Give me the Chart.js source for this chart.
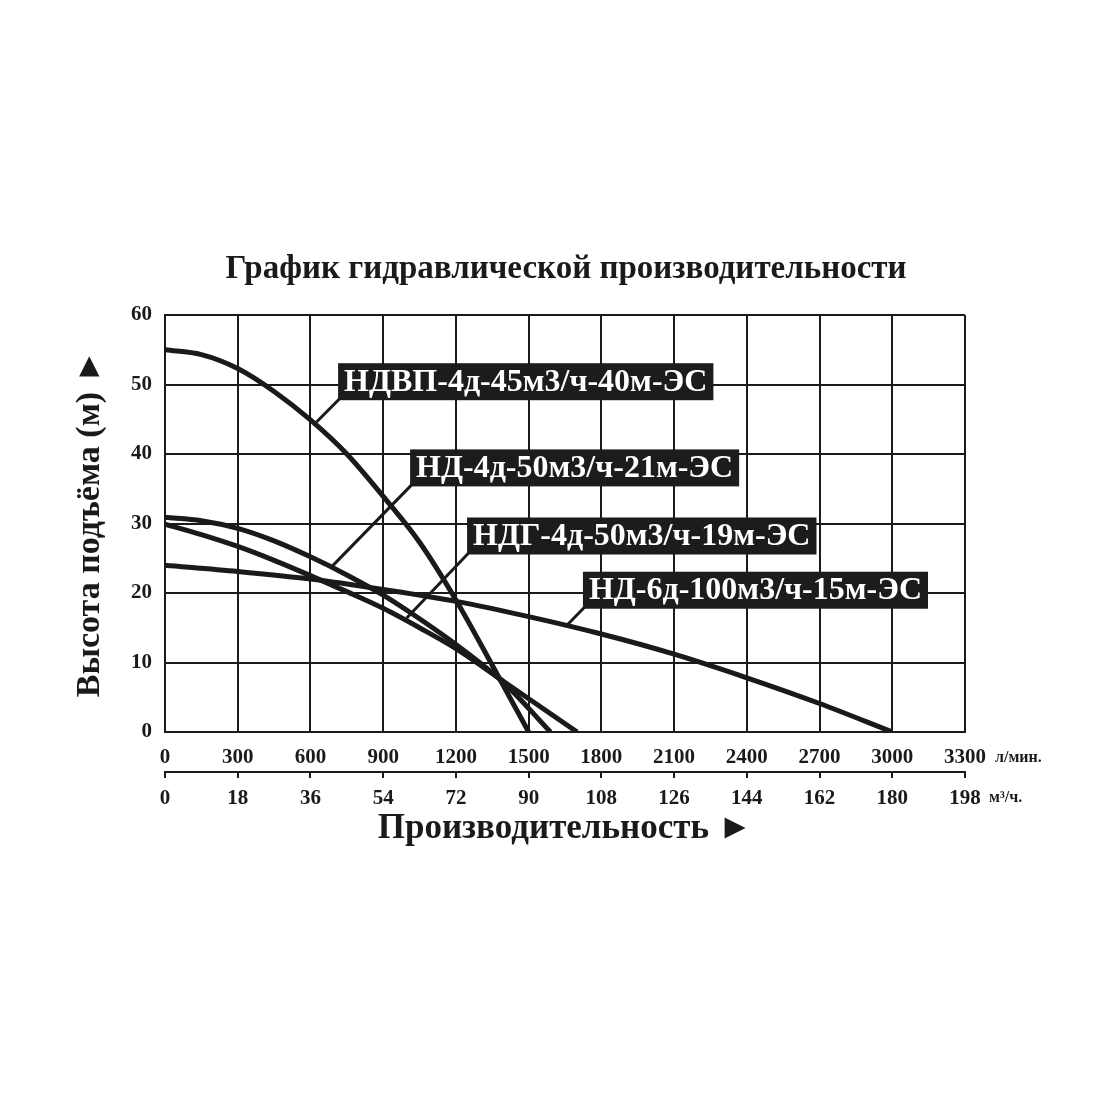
<!DOCTYPE html>
<html>
<head>
<meta charset="utf-8">
<script src="https://cdn.jsdelivr.net/npm/chart.js@4.4.1/dist/chart.umd.min.js"></script>
<style>
  html, body { margin: 0; background: #fff; }
</style>
</head>
<body>
<canvas id="chart" width="1100" height="1100"></canvas>
<script>
'use strict';

// pump names (curve labels)
var pumpNames = [
    'НДВП-4д-45м3/ч-40м-ЭС',
    'НД-4д-50м3/ч-21м-ЭС',
    'НДГ-4д-50м3/ч-19м-ЭС',
    'НД-6д-100м3/ч-15м-ЭС'
];

// flow (l/min) and head (m)
var flowNDVP = [0, 150, 300, 450, 600, 750, 900, 1050, 1200, 1350, 1500];
var headNDVP = [55, 54.3, 52.3, 49.0, 44.9, 40.0, 33.9, 27.3, 19.0, 9.6, 0];

var flowND4 = [0, 150, 300, 450, 600, 750, 900, 1050, 1200, 1400, 1590];
var headND4 = [30.9, 30.4, 29.3, 27.5, 25.2, 22.6, 19.7, 16.3, 12.6, 7.0, 0];

var flowNDG = [0, 150, 300, 450, 600, 750, 900, 1050, 1200, 1400, 1700];
var headNDG = [29.9, 28.4, 26.7, 24.7, 22.5, 20.2, 17.8, 15.0, 12.0, 7.2, 0];

var flowND6 = [0, 300, 600, 900, 1200, 1500, 1800, 2100, 2400, 2700, 3000];
var headND6 = [24.0, 23.1, 22.0, 20.5, 18.8, 16.6, 14.1, 11.2, 7.8, 4.1, 0];

// axis ticks
var flowTicks = [0, 300, 600, 900, 1200, 1500, 1800, 2100, 2400, 2700, 3000, 3300];
var cubicTicks = [0, 18, 36, 54, 72, 90, 108, 126, 144, 162, 180, 198];
var headTicks = [0, 10, 20, 30, 40, 50, 60];

var SERIF = "'Liberation Serif', 'DejaVu Serif', serif";

function toPoints(xs, ys) {
    return xs.map(function(x, i) { return {x: x, y: ys[i]}; });
}

// callout boxes: box anchor (left, middle) and leader end on the curve, in data units
var callouts = [
    {box: [714, 50.4], tip: [625, 44.6]},
    {box: [1011, 38.0], tip: [688, 23.8]},
    {box: [1246, 28.2], tip: [997, 16.4]},
    {box: [1724, 20.4], tip: [1662, 15.5]}
];

var extras = {
    id: 'extras',
    afterDatasetsDraw: function(chart) {
        var ctx = chart.ctx;
        var xs = chart.scales.x, ys = chart.scales.y;
        ctx.save();
        ctx.font = 'bold 32px ' + SERIF;
        ctx.textBaseline = 'middle';
        callouts.forEach(function(c, i) {
            var bx = xs.getPixelForValue(c.box[0]);
            var by = ys.getPixelForValue(c.box[1]);
            var w = ctx.measureText(pumpNames[i]).width + 12;
            var h = 37;
            // leader
            ctx.strokeStyle = '#1a1a1a';
            ctx.lineWidth = 3;
            ctx.beginPath();
            ctx.moveTo(bx + 3, by + h / 2 - 3);
            ctx.lineTo(xs.getPixelForValue(c.tip[0]), ys.getPixelForValue(c.tip[1]));
            ctx.stroke();
            ctx.fillStyle = '#1c1c1c';
            ctx.fillRect(bx, by - h / 2, w, h);
            ctx.fillStyle = '#ffffff';
            ctx.textAlign = 'left';
            ctx.fillText(pumpNames[i], bx + 6, by + 1);
        });
        ctx.restore();
    },
    afterDraw: function(chart) {
        var ctx = chart.ctx;
        var area = chart.chartArea;
        ctx.save();
        ctx.fillStyle = '#1a1a1a';
        ctx.textBaseline = 'middle';
        ctx.textAlign = 'center';
        ctx.font = 'bold 33px ' + SERIF;
        ctx.fillText('График гидравлической производительности', (area.left + area.right) / 2 + 1, area.top - 46);
        ctx.textAlign = 'left';
        ctx.font = 'bold 16px ' + SERIF;
        ctx.fillText('л/мин.', area.right + 30, area.bottom + 26);
        ctx.fillText('м³/ч.', area.right + 24, area.bottom + 66);
        ctx.restore();
    }
};

var lineStyle = {
    borderColor: '#1a1a1a',
    borderWidth: 5,
    pointRadius: 0,
    fill: false,
    cubicInterpolationMode: 'monotone',
    xAxisID: 'x',
    yAxisID: 'y'
};

var datasets = [
    toPoints(flowNDVP, headNDVP),
    toPoints(flowND4, headND4),
    toPoints(flowNDG, headNDG),
    toPoints(flowND6, headND6)
].map(function(pts, i) {
    return Object.assign({label: pumpNames[i], data: pts}, lineStyle);
});

var gridStyle = {color: '#1a1a1a', lineWidth: 2, drawTicks: false};
var tickFont = {family: SERIF, size: 21, weight: 'bold'};
function plain(v) { return String(v); }

new Chart(document.getElementById('chart'), {
    type: 'line',
    data: {datasets: datasets},
    plugins: [extras],
    options: {
        responsive: false,
        animation: false,
        devicePixelRatio: 1,
        layout: {padding: {top: 315, right: 135, bottom: 248, left: 0}},
        plugins: {legend: {display: false}, tooltip: {enabled: false}},
        scales: {
            x: {
                type: 'linear', position: 'bottom', min: 0, max: 3300,
                afterBuildTicks: function(s) { s.ticks = flowTicks.map(function(v) { return {value: v}; }); },
                afterFit: function(s) { s.height = 40; },
                grid: gridStyle,
                border: {color: '#1a1a1a', width: 2},
                ticks: {font: tickFont, color: '#1a1a1a', padding: 13, maxRotation: 0, autoSkip: false, callback: plain}
            },
            x2: {
                type: 'linear', position: 'bottom', min: 0, max: 198,
                afterBuildTicks: function(s) { s.ticks = cubicTicks.map(function(v) { return {value: v}; }); },
                afterFit: function(s) { s.height = 80; },
                grid: {drawOnChartArea: false, drawTicks: true, tickLength: 6, color: '#1a1a1a', lineWidth: 2},
                border: {color: '#1a1a1a', width: 2},
                ticks: {font: tickFont, color: '#1a1a1a', padding: 8, maxRotation: 0, autoSkip: false, callback: plain},
                title: {
                    display: true, text: 'Производительность ►', color: '#1a1a1a',
                    font: {family: SERIF, size: 35, weight: 'bold'}, padding: {top: 0, bottom: 2}
                }
            },
            y: {
                type: 'linear', position: 'left', min: 0, max: 60,
                afterBuildTicks: function(s) { s.ticks = headTicks.map(function(v) { return {value: v}; }); },
                afterFit: function(s) { s.width = 165; },
                grid: gridStyle,
                border: {color: '#1a1a1a', width: 2},
                ticks: {font: tickFont, color: '#1a1a1a', padding: 13, callback: plain},
                title: {
                    display: true, text: 'Высота подъёма (м) ►', color: '#1a1a1a',
                    font: {family: SERIF, size: 34, weight: 'bold'}, padding: {top: 70, bottom: 0}
                }
            }
        }
    }
});
</script>
</body>
</html>
